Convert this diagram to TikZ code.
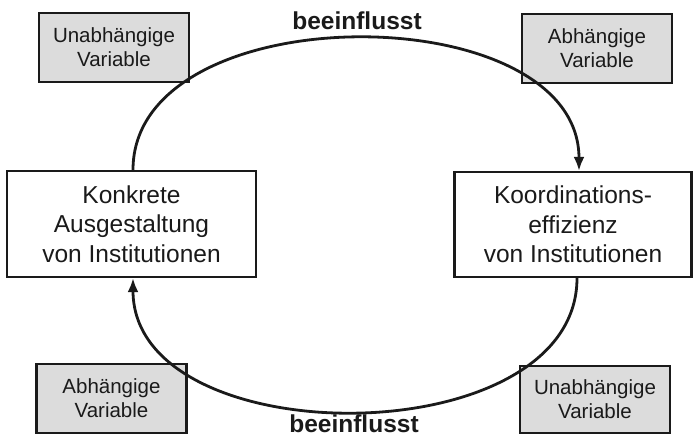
\documentclass[tikz,border=0pt]{standalone}
\usepackage{fontspec}
\setmainfont{Liberation Sans}
\usetikzlibrary{arrows.meta}
\definecolor{boxgray}{HTML}{DCDCDC}
\definecolor{ink}{HTML}{1A1A1A}
\tikzset{
  varbox/.style={draw=ink, line width=2.6bp, fill=boxgray, text=ink, align=center,
    inner sep=0pt, minimum width=150bp, minimum height=69bp,
    font=\fontsize{20.5bp}{24bp}\selectfont},
  instbox/.style={draw=ink, line width=2.2bp, fill=white, text=ink, align=center,
    inner sep=0pt, font=\fontsize{24.5bp}{29.5bp}\selectfont},
  arc/.style={draw=ink, line width=2.8bp, -{Latex[length=14bp,width=11bp]}},
  lbl/.style={text=ink, anchor=base, inner sep=0pt, font=\bfseries\fontsize{24.5bp}{29bp}\selectfont}
}
\begin{document}
\begin{tikzpicture}[x=1bp,y=-1bp]
\useasboundingbox (0,0) rectangle (694,437);
\node[varbox] (tl) at (114,47.5) {Unabhängige\\Variable};
\node[varbox] (tr) at (597,48.5) {Abhängige\\Variable};
\node[varbox] (bl) at (111.5,398.5) {Abhängige\\Variable};
\node[varbox, minimum height=67bp] (br) at (595,399.5) {Unabhängige\\Variable};
\node[instbox, minimum width=249bp, minimum height=106bp] (L) at (131.5,224) {Konkrete\\Ausgestaltung\\von Institutionen};
\node[instbox, minimum width=237bp, minimum height=105bp] (R) at (573,224.5) {Koordinations-\\effizienz\\von Institutionen};
\node[lbl] (top) at (357,30) {beeinflusst};
\node[lbl] (bot) at (354,432) {beeinflusst};
\draw[arc] ([xshift=1.5bp]L.north) .. controls +(0,-176) and +(0,-176) .. ([xshift=6bp]R.north);
\draw[arc] ([xshift=4bp]R.south) .. controls +(0,178) and +(0,178) .. ([xshift=1.5bp]L.south);
\end{tikzpicture}
\end{document}
